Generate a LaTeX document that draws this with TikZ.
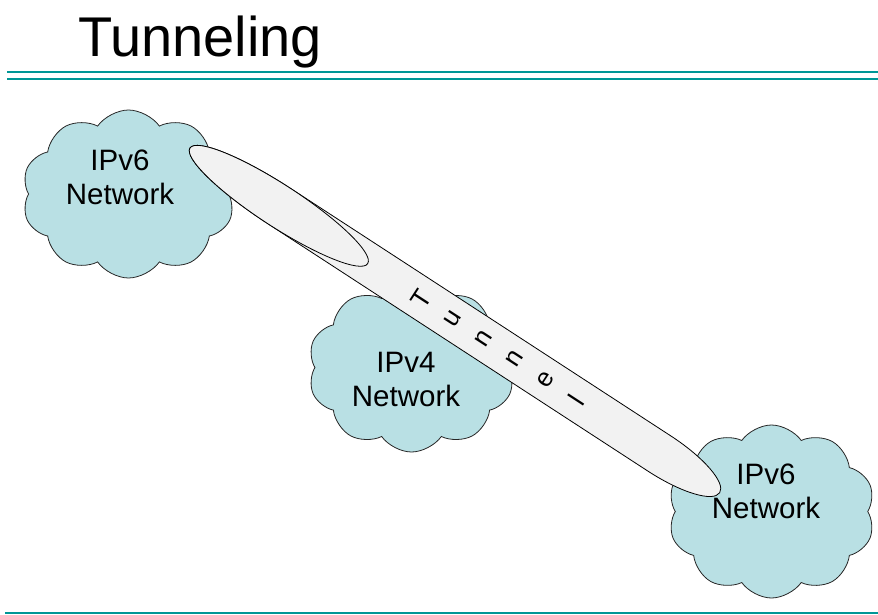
\documentclass[tikz,border=0pt]{standalone}
\usepackage{fontspec}
\setmainfont{Liberation Sans}
\usetikzlibrary{shapes.symbols}
\definecolor{rulecol}{RGB}{0,150,150}
\definecolor{cloudfill}{RGB}{185,224,228}
\definecolor{tubefill}{RGB}{242,242,242}

\begin{document}
\begin{tikzpicture}[
        x=1pt, y=1pt,
        cloudbox/.style={cloud, cloud puffs=10, cloud puff arc=110, draw=black!85, fill=cloudfill, line width=0.8pt, inner sep=0pt},
        netlabel/.style={align=center, inner sep=0pt, font=\fontsize{29.5}{34}\selectfont},
        tubeline/.style={draw=black, fill=tubefill, line width=0.8pt},
        tunnelchar/.style={transform shape, rotate=90, inner sep=0pt, font=\fontsize{26}{26}\selectfont},
        rule/.style={draw=rulecol, line width=2.2pt}
        ]
        \useasboundingbox (0,0) rectangle (878,-615);

        % Title and rules
        \node[anchor=base west, inner sep=0pt, font=\fontsize{56}{56}\selectfont] (title) at (78,-57) {Tunneling};
        \draw[rule] (7,-72) -- (878,-72);
        \draw[rule] (7,-79) -- (878,-79);
        \draw[rule] (5,-613) -- (878,-613);

        % Clouds
        \node[cloudbox, minimum width=213, minimum height=168] (v6west) at (128.5,-194) {};
        \node[cloudbox, minimum width=207, minimum height=169] (v4core) at (411.5,-367.5) {};
        \node[cloudbox, minimum width=207, minimum height=173] (v6east) at (771.5,-511.5) {};

        \node[netlabel] (v6westlbl) at (120,-177.5) {IPv6\\Network};
        \node[netlabel] (v4corelbl) at (406,-379) {IPv4\\Network};
        \node[netlabel] (v6eastlbl) at (766,-491) {IPv6\\Network};

        % Tunnel
        \begin{scope}[shift={(190,-148)}, rotate=-33.06]
            \draw[tubeline] (106,21) -- (560,21) arc[start angle=90, end angle=-90, x radius=72, y radius=21]
                -- (106,-21) arc[start angle=270, end angle=90, x radius=106, y radius=21] -- cycle;
            \draw[tubeline] (106,0) ellipse [x radius=106, y radius=21];
            \foreach \ch [count=\i] in {T,u,n,n,e,l}
                \node[tunnelchar] (ch\i) at ({239+37*\i},0) {\ch};
        \end{scope}

    \end{tikzpicture}
\end{document}
